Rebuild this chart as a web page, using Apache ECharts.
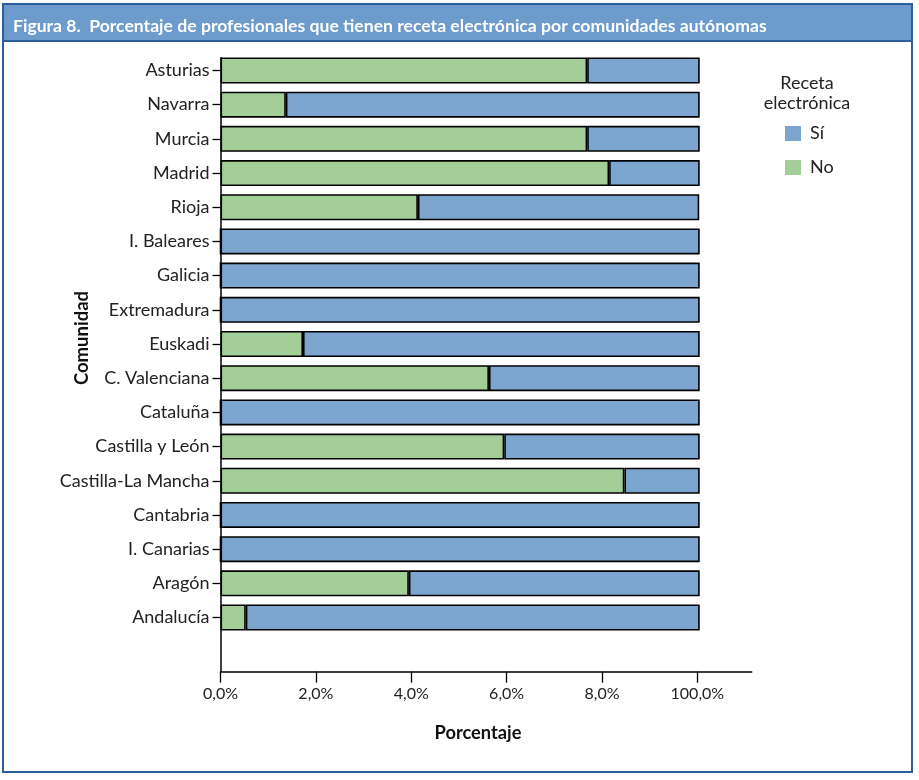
<!DOCTYPE html>
<html>
<head>
<meta charset="utf-8">
<script src="https://cdn.jsdelivr.net/npm/echarts@6/dist/echarts.min.js"></script>
<style>
html,body{margin:0;padding:0;background:#fff;}
#c{width:919px;height:780px;}
</style>
</head>
<body>
<div id="c"></div>
<script>
const categories = ['Asturias','Navarra','Murcia','Madrid','Rioja','I. Baleares','Galicia','Extremadura','Euskadi','C. Valenciana','Cataluña','Castilla y León','Castilla-La Mancha','Cantabria','I. Canarias','Aragón','Andalucía'];
const noValues = [76.9, 13.7, 76.9, 81.5, 41.4, 0, 0, 0, 17.3, 56.3, 0, 59.5, 84.7, 0, 0, 39.5, 5.3];
const siValues = [23.6, 86.8, 23.6, 19.0, 59.0, 100.5, 100.5, 100.5, 83.2, 44.2, 100.5, 41.0, 15.8, 100.5, 100.5, 61.0, 95.2];
const xTickValues = [0, 20, 40, 60, 80, 100];
const xTickLabels = ['0,0%', '2,0%', '4,0%', '6,0%', '8,0%', '100,0%'];
const seriesNames = ['No', 'Sí'];
const legendOrder = ['Sí', 'No'];

const FONT = 'Lato';
const chart = echarts.init(document.getElementById('c'), null, {renderer: 'canvas'});
const xMax = 111.4;
const gridLeft = 220.5, gridWidth = 531.2;

chart.setOption({
  animation: false,
  textStyle: {fontFamily: FONT},
  title: {
    text: 'Figura 8.  Porcentaje de profesionales que tienen receta electrónica por comunidades autónomas',
    left: 8, top: 12,
    textStyle: {color: '#fff', fontSize: 17.6, fontWeight: 'bold', fontFamily: FONT}
  },
  graphic: [
    {type: 'rect', z: -10, shape: {x: 3, y: 4, width: 909, height: 768}, style: {fill: '#fff', stroke: '#2a5f9e', lineWidth: 2}},
    {type: 'rect', z: -9, shape: {x: 3, y: 4, width: 909, height: 37}, style: {fill: '#6c9bcc', stroke: '#2a5f9e', lineWidth: 2}},
    {type: 'text', x: 82, y: 338, rotation: Math.PI / 2, style: {text: 'Comunidad', fontFamily: FONT, fontSize: 18.5, fontWeight: 'bold', fill: '#111', align: 'center', verticalAlign: 'middle'}},
    {type: 'text', x: 478, y: 733, style: {text: 'Porcentaje', fontFamily: FONT, fontSize: 18.3, fontWeight: 'bold', fill: '#111', align: 'center', verticalAlign: 'middle'}},
    {type: 'text', x: 807, y: 73, style: {text: 'Receta\nelectrónica', fontFamily: FONT, fontSize: 18, lineHeight: 20, fill: '#222', align: 'center', verticalAlign: 'top'}}
  ],
  legend: {
    data: legendOrder,
    orient: 'vertical',
    left: 780, top: 119.5,
    icon: 'rect',
    itemWidth: 16, itemHeight: 15, itemGap: 16,
    itemStyle: {borderWidth: 0},
    textStyle: {fontSize: 18, color: '#222', fontFamily: FONT, padding: [0, 0, 0, 4]}
  },
  grid: [
    {left: gridLeft, top: 53.4, width: gridWidth, height: 581.2},
    {left: gridLeft, top: 57.7, width: gridWidth, height: 614}
  ],
  xAxis: [
    {gridIndex: 0, type: 'value', min: 0, max: xMax, show: false},
    {gridIndex: 1, type: 'value', min: 0, max: xMax, interval: 20,
     axisLine: {show: true, lineStyle: {color: '#000', width: 1.5}},
     axisTick: {show: true, length: 11, lineStyle: {color: '#000', width: 1.3}, customValues: xTickValues},
     axisLabel: {customValues: xTickValues, formatter: v => xTickLabels[xTickValues.indexOf(v)], fontSize: 16, color: '#222', margin: 14, fontFamily: FONT},
     splitLine: {show: false}}
  ],
  yAxis: [
    {gridIndex: 0, type: 'category', inverse: true, data: categories,
     axisLine: {show: false},
     axisTick: {show: true, alignWithLabel: true, length: 8, lineStyle: {color: '#000', width: 1.3}},
     axisLabel: {fontSize: 18, color: '#222', margin: 11, fontFamily: FONT}},
    {gridIndex: 1, type: 'value', min: 0, max: 1,
     axisLine: {show: true, lineStyle: {color: '#000', width: 1.5}},
     axisTick: {show: false}, axisLabel: {show: false}, splitLine: {show: false}}
  ],
  series: [
    {name: seriesNames[0], type: 'bar', stack: 't', xAxisIndex: 0, yAxisIndex: 0, data: noValues, barWidth: 26,
     itemStyle: {color: '#a3ce98', borderColor: '#000', borderWidth: 1.6}},
    {name: seriesNames[1], type: 'bar', stack: 't', xAxisIndex: 0, yAxisIndex: 0, data: siValues, barWidth: 26,
     itemStyle: {color: '#7ca6d0', borderColor: '#000', borderWidth: 1.6}}
  ]
});
</script>
</body>
</html>
